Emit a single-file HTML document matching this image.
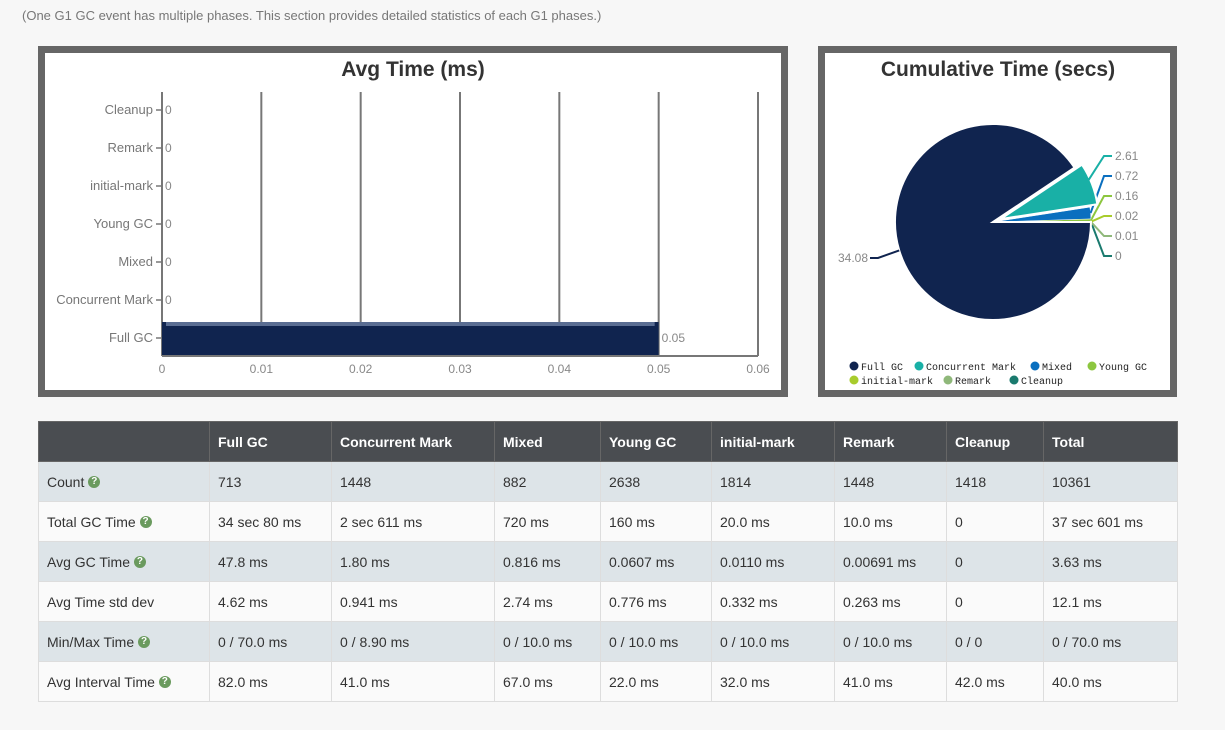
<!DOCTYPE html>
<html><head><meta charset="utf-8">
<style>
body{margin:0;width:1225px;height:730px;background:#f7f7f7;font-family:"Liberation Sans",sans-serif;position:relative;overflow:hidden}
.note{position:absolute;left:22px;top:8px;font-size:13px;color:#777}
.box{position:absolute;background:#fff;border:7px solid #666;box-sizing:border-box}
table{position:absolute;left:38px;top:421px;border-collapse:collapse;font-size:14px;color:#333;table-layout:fixed;width:1139px}
td,th{border:1px solid #ddd;padding:0 0 0 8px;height:39px;text-align:left;white-space:nowrap;overflow:hidden}
th{background:#4a4d51;color:#fff;font-weight:bold;border-color:#666}
tr:nth-child(even) td{background:#dde4e8}
tr:nth-child(odd) td{background:#fafafa}
.q{display:inline-block;width:12px;height:12px;border-radius:50%;background:#6a9a5e;color:#fff;font-size:10px;line-height:12px;text-align:center;font-weight:bold;vertical-align:middle;margin-top:-2px}
</style></head><body>
<div class="note">(One G1 GC event has multiple phases. This section provides detailed statistics of each G1 phases.)</div>
<div class="box" style="left:38px;top:46px;width:750px;height:351px"></div>
<div class="box" style="left:818px;top:46px;width:359px;height:351px"></div>
<svg id="svg" width="1225" height="730" style="position:absolute;left:0;top:0"></svg>
<table>
<colgroup><col style="width:171px"><col style="width:122px"><col style="width:163px"><col style="width:106px"><col style="width:111px"><col style="width:123px"><col style="width:112px"><col style="width:97px"><col style="width:134px"></colgroup>
<tr><th></th><th>Full GC</th><th>Concurrent Mark</th><th>Mixed</th><th>Young GC</th><th>initial-mark</th><th>Remark</th><th>Cleanup</th><th>Total</th></tr>
<tr><td>Count <span class="q">?</span></td><td>713</td><td>1448</td><td>882</td><td>2638</td><td>1814</td><td>1448</td><td>1418</td><td>10361</td></tr>
<tr><td>Total GC Time <span class="q">?</span></td><td>34 sec 80 ms</td><td>2 sec 611 ms</td><td>720 ms</td><td>160 ms</td><td>20.0 ms</td><td>10.0 ms</td><td>0</td><td>37 sec 601 ms</td></tr>
<tr><td>Avg GC Time <span class="q">?</span></td><td>47.8 ms</td><td>1.80 ms</td><td>0.816 ms</td><td>0.0607 ms</td><td>0.0110 ms</td><td>0.00691 ms</td><td>0</td><td>3.63 ms</td></tr>
<tr><td>Avg Time std dev</td><td>4.62 ms</td><td>0.941 ms</td><td>2.74 ms</td><td>0.776 ms</td><td>0.332 ms</td><td>0.263 ms</td><td>0</td><td>12.1 ms</td></tr>
<tr><td>Min/Max Time <span class="q">?</span></td><td>0 / 70.0 ms</td><td>0 / 8.90 ms</td><td>0 / 10.0 ms</td><td>0 / 10.0 ms</td><td>0 / 10.0 ms</td><td>0 / 10.0 ms</td><td>0 / 0</td><td>0 / 70.0 ms</td></tr>
<tr><td>Avg Interval Time <span class="q">?</span></td><td>82.0 ms</td><td>41.0 ms</td><td>67.0 ms</td><td>22.0 ms</td><td>32.0 ms</td><td>41.0 ms</td><td>42.0 ms</td><td>40.0 ms</td></tr>
</table>
<script>
const barCategories=["Full GC","Concurrent Mark","Mixed","Young GC","initial-mark","Remark","Cleanup"];
const barValues=[0.05,0,0,0,0,0,0];
const xTicks=[0,0.01,0.02,0.03,0.04,0.05,0.06];
const pieLabels=["Cleanup","Remark","initial-mark","Young GC","Mixed","Concurrent Mark","Full GC"];
const pieValues=[0,0.01,0.02,0.16,0.72,2.61,34.08];
const pieColors=["#1a7a6e","#8fb87a","#a8cc2c","#8cc63f","#0a6fbf","#19b0a6","#10244f"];
const legendOrder=["Full GC","Concurrent Mark","Mixed","Young GC","initial-mark","Remark","Cleanup"];

const S=document.getElementById('svg');const NS='http://www.w3.org/2000/svg';
function mk(t,a,txt){const e=document.createElementNS(NS,t);for(const k in a)e.setAttribute(k,a[k]);if(txt!==undefined)e.textContent=txt;S.appendChild(e);return e;}
const x0=162,x1=758,yTop=92,yBot=356,xMax=0.06;
const X=v=>x0+(v/xMax)*(x1-x0);
const Y=i=>338-i*38;
let t=mk('text',{x:413,y:76,'text-anchor':'middle','font-size':21,'font-weight':'bold',fill:'#333','font-family':'Liberation Sans'},'Avg Time (ms)');

xTicks.forEach(v=>{
 let l=mk('line',{x1:X(v),x2:X(v),y1:yTop,y2:yBot,stroke:'#777','stroke-width':2});
 
 let tx=mk('text',{x:X(v),y:373,'text-anchor':'middle','font-size':12,fill:'#888'},String(v));
 
});
mk('line',{x1:x0,x2:x1,y1:yBot,y2:yBot,stroke:'#777','stroke-width':2});
barCategories.forEach((c,i)=>{
 const y=Y(i);
 let tx=mk('text',{x:153,y:y+4,'text-anchor':'end','font-size':13,fill:'#777'},c);
 
 mk('line',{x1:156,x2:162,y1:y,y2:y,stroke:'#777','stroke-width':1.5});
 const v=barValues[i];
 if(v>0){
  let r=mk('rect',{x:x0,y:y-16,width:X(v)-x0,height:33,fill:'#10244f'});
  
  mk('rect',{x:x0+4,y:y-16,width:X(v)-x0-8,height:4,fill:'#5a6d92'});
 }
 let vl=mk('text',{x:X(v)+3,y:y+4,'font-size':12,fill:'#888'},String(v));
 
});
const cx=993,cy=222,R=98;
t=mk('text',{x:998,y:76,'text-anchor':'middle','font-size':21,'font-weight':'bold',fill:'#333'},'Cumulative Time (secs)');

const total=pieValues.reduce((a,b)=>a+b,0);
let ang=0;const labelYs=[256,236,216,196,176,156];
pieValues.forEach((v,i)=>{
 const a0=ang,a1=ang+v/total*2*Math.PI;ang=a1;
 const mid=(a0+a1)/2;
 const off=pieLabels[i]==="Concurrent Mark"?8:0;
 const ox=cx+off*Math.cos(mid),oy=cy-off*Math.sin(mid);
 const p0=[ox+R*Math.cos(a0),oy-R*Math.sin(a0)],p1=[ox+R*Math.cos(a1),oy-R*Math.sin(a1)];
 const large=(a1-a0)>Math.PI?1:0;
 let p=mk('path',{d:`M${ox},${oy}L${p0[0]},${p0[1]}A${R},${R} 0 ${large} 0 ${p1[0]},${p1[1]}Z`,fill:pieColors[i],stroke:'#fff','stroke-width':v>1?2:0.5});
 
 const ex=cx+R*Math.cos(mid),ey=cy-R*Math.sin(mid);
 let lx,ly,tx,anchor='start';
 if(i<6){ly=labelYs[i];lx=1112;tx=lx+3;
  mk('polyline',{points:`${ex},${ey} ${lx-8},${ly} ${lx},${ly}`,fill:'none',stroke:pieColors[i],'stroke-width':2});
 }else{lx=870;ly=258;tx=lx-2;anchor='end';
  mk('polyline',{points:`${ex},${ey} ${lx+8},${ly} ${lx},${ly}`,fill:'none',stroke:pieColors[i],'stroke-width':2});
 }
 let lb=mk('text',{x:tx,y:ly+4,'text-anchor':anchor,'font-size':12,fill:'#888'},String(v));
 
});
const lpos=[[850,367],[915,367],[1031,367],[1088,367],[850,381],[944,381],[1010,381]];
legendOrder.forEach((n,i)=>{
 const [lx,ly]=lpos[i];const col=pieColors[pieLabels.indexOf(n)];
 let c=mk('circle',{cx:lx+4,cy:ly-1,r:4.5,fill:col});
 
 let tx=mk('text',{x:lx+11,y:ly+3,'font-size':10,fill:'#222','font-family':'Liberation Mono'},n);
 
});
</script>
</body></html>
